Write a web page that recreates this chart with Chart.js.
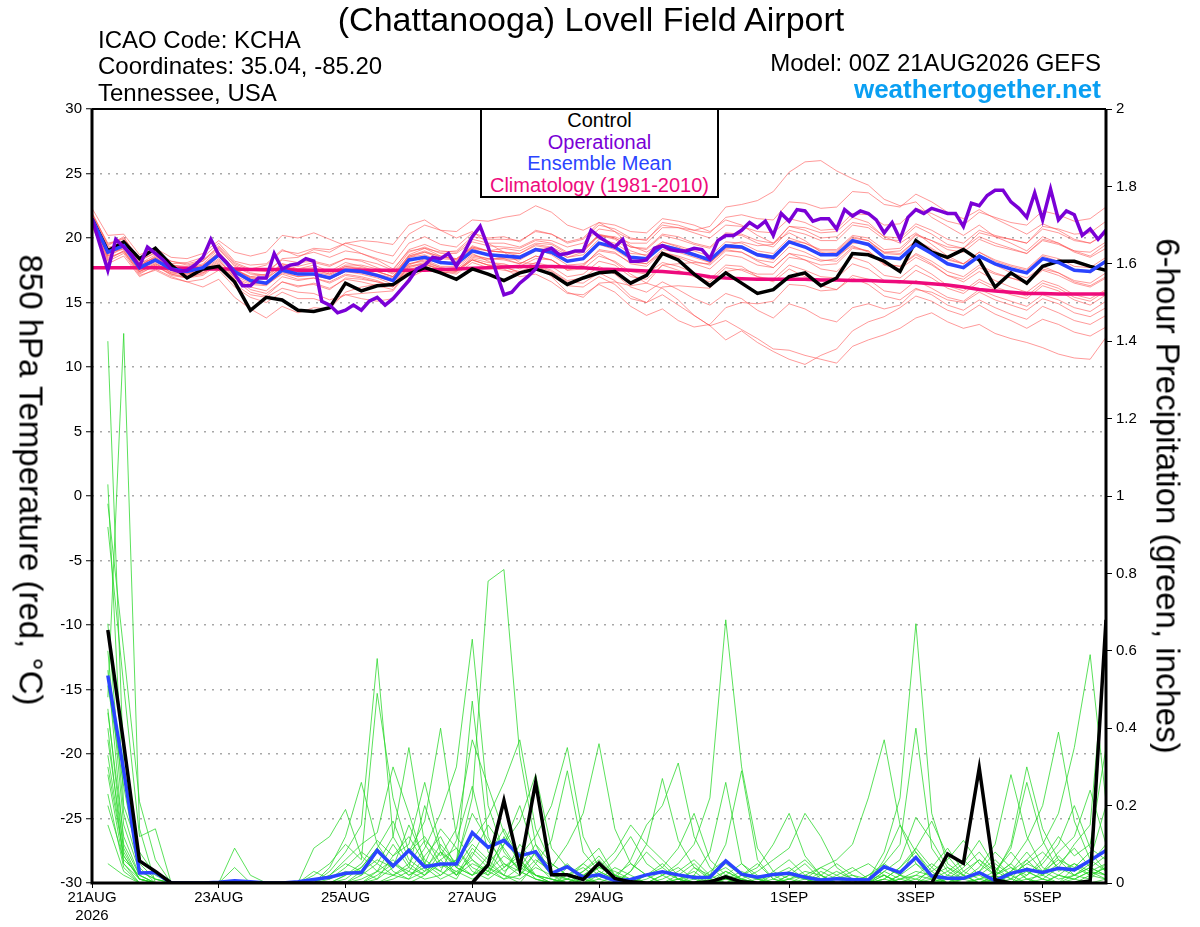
<!DOCTYPE html>
<html>
<head>
<meta charset="utf-8">
<script src="https://cdn.jsdelivr.net/npm/chart.js@4.4.0/dist/chart.umd.min.js"></script>
<style>
  body { margin: 0; background: #fff; }
  #wrap { position: relative; width: 1200px; height: 927px; font-family: "Liberation Sans", Arial, sans-serif; color: #000; }
  #c { position: absolute; left: 0; top: 0; }
  .t { position: absolute; white-space: nowrap; line-height: 1; }
  .rot { position: absolute; white-space: nowrap; line-height: 1; font-size: 33px; transform: translate(-50%, -50%) rotate(90deg); }
  #legend { position: absolute; left: 480px; top: 108px; width: 235px; height: 86px; border: 2px solid #000; background: #fff; text-align: center; font-size: 20px; line-height: 21.6px; }
</style>
</head>
<body>
<div id="wrap">
  <canvas id="c" width="1200" height="927"></canvas>
  <div class="t" style="left:591px;top:2px;font-size:34px;transform:translateX(-50%)">(Chattanooga) Lovell Field Airport</div>
  <div class="t" style="left:98px;top:28px;font-size:24px">ICAO Code: KCHA</div>
  <div class="t" style="left:98px;top:54px;font-size:24px">Coordinates: 35.04, -85.20</div>
  <div class="t" style="left:98px;top:81px;font-size:24px">Tennessee, USA</div>
  <div class="t" style="right:99px;top:51px;font-size:24px">Model: 00Z 21AUG2026 GEFS</div>
  <div class="t" style="right:99px;top:76px;font-size:26px;font-weight:bold;color:#0a9ff2">weathertogether.net</div>
  <div class="rot" style="left:31px;top:480px">850 hPa Temperature (red, °C)</div>
  <div class="rot" style="left:1168px;top:496px">6-hour Precipitation (green, inches)</div>
  <div id="legend">
    <div>Control</div>
    <div style="color:#7a00d6">Operational</div>
    <div style="color:#2a44ff">Ensemble Mean</div>
    <div style="color:#ee0a7c">Climatology (1981-2010)</div>
  </div>
</div>
<script>
// forecast hours: ensemble every 6h, operational every 3h, 0..384
const ensStep = 6;
const opStep = 3;

const tickHours = [0, 48, 96, 144, 192, 264, 312, 360];
const tickLabels = [['21AUG', '2026'], '23AUG', '25AUG', '27AUG', '29AUG', '1SEP', '3SEP', '5SEP'];

// 850 hPa temperature (C)
const opTemp = [
  21.5, 19.5, 17.5, 19.9, 19.3, 18.7, 17.8, 19.3, 18.8, 18.3,
  17.6, 17.4, 17.5, 17.9, 18.5, 19.9, 18.7, 18.1, 17.2, 16.3,
  16.3, 16.9, 16.9, 18.8, 17.6, 17.9, 18.0, 18.4, 18.2, 15.1,
  14.8, 14.2, 14.4, 14.8, 14.4, 15.1, 15.4, 14.8, 15.3, 16.0,
  16.7, 17.6, 17.9, 18.5, 18.4, 18.8, 17.8, 18.9, 20.1, 20.9,
  19.3, 17.4, 15.6, 15.8, 16.5, 17.0, 17.6, 19.0, 19.2, 18.7,
  18.8, 19.0, 19.0, 20.6, 20.1, 19.7, 19.3, 19.9, 18.2, 18.2,
  18.3, 19.2, 19.4, 19.1, 19.0, 19.0, 19.2, 19.1, 18.4, 19.8,
  20.2, 20.2, 20.6, 21.2, 20.8, 21.3, 20.2, 21.9, 21.3, 22.2,
  22.1, 21.3, 21.5, 21.5, 20.7, 22.2, 21.7, 22.1, 21.9, 21.4,
  20.4, 21.2, 19.9, 21.6, 22.2, 21.9, 22.3, 22.1, 21.9, 21.9,
  20.9, 22.7, 22.5, 23.3, 23.7, 23.7, 22.8, 22.3, 21.6, 23.5,
  21.4, 23.8, 21.4, 22.1, 21.8, 20.2, 20.7, 19.9, 20.6
];
const ctlTemp = [
  21.5, 19.0, 19.7, 18.4, 19.2, 17.9, 16.9, 17.6, 17.8, 16.6,
  14.4, 15.4, 15.2, 14.4, 14.3, 14.6, 16.5, 15.9, 16.3, 16.4,
  17.2, 17.7, 17.3, 16.8, 17.6, 17.2, 16.7, 17.3, 17.6, 17.2,
  16.4, 16.9, 17.3, 17.4, 16.5, 17.1, 18.8, 18.3, 17.2, 16.3,
  17.3, 16.5, 15.7, 16.0, 17.0, 17.3, 16.3, 16.9, 18.8, 18.7,
  18.2, 17.4, 19.8, 18.9, 18.5, 19.1, 18.3, 16.2, 17.3, 16.5,
  17.8, 18.2, 18.2, 17.8, 17.5
];
const meanTemp = [
  21.5, 18.9, 19.4, 17.7, 18.3, 17.6, 17.4, 17.7, 18.7, 17.4,
  16.7, 16.5, 17.5, 17.2, 17.2, 16.9, 17.5, 17.4, 17.1, 16.7,
  18.3, 18.5, 18.1, 18.0, 19.0, 18.7, 18.6, 18.5, 19.1, 18.9,
  18.2, 18.4, 19.6, 19.3, 18.5, 18.4, 19.4, 19.1, 18.7, 18.3,
  19.4, 19.3, 18.7, 18.5, 19.7, 19.3, 18.7, 18.7, 19.8, 19.5,
  18.5, 18.4, 19.5, 18.8, 18.0, 17.7, 18.6, 18.0, 17.6, 17.3,
  18.4, 18.1, 17.5, 17.4, 18.2
];
const climTemp = [
  17.7, 17.7, 17.7, 17.7, 17.7, 17.65, 17.65, 17.6, 17.6, 17.6,
  17.55, 17.55, 17.55, 17.5, 17.5, 17.5, 17.5, 17.5, 17.5, 17.5,
  17.5, 17.5, 17.55, 17.6, 17.65, 17.7, 17.75, 17.8, 17.8, 17.8,
  17.75, 17.7, 17.6, 17.55, 17.5, 17.45, 17.4, 17.3, 17.2, 17.0,
  16.9, 16.85, 16.8, 16.8, 16.8, 16.8, 16.75, 16.75, 16.7, 16.7,
  16.65, 16.6, 16.55, 16.45, 16.35, 16.2, 16.0, 15.9, 15.8, 15.7,
  15.7, 15.65, 15.65, 15.65, 15.65
];
const tempMembers = [
  [22.0, 19.5, 20.0, 18.4, 19.0, 18.0, 18.1, 18.5, 19.6, 18.2,
   17.9, 18.0, 19.1, 18.6, 18.9, 18.5, 19.0, 18.8, 18.4, 18.0,
   19.6, 20.1, 19.5, 19.3, 20.4, 20.0, 20.1, 19.7, 20.6, 20.3,
   19.6, 19.9, 21.0, 20.7, 20.0, 19.8, 21.2, 21.0, 20.6, 20.9,
   22.4, 22.6, 22.9, 23.6, 25.1, 25.9, 26.0, 25.2, 24.6, 24.1,
   23.0, 22.5, 22.8, 21.6, 20.9, 20.2, 21.0, 20.1, 19.6, 19.0,
   20.1, 19.6, 18.9, 18.5, 19.2],
  [21.2, 18.3, 19.0, 17.2, 17.9, 17.1, 16.9, 17.1, 18.0, 16.8,
   15.8, 15.5, 16.6, 16.2, 16.5, 16.1, 16.8, 16.6, 16.3, 16.0,
   17.6, 17.8, 17.4, 17.2, 18.1, 17.7, 17.5, 17.3, 17.8, 17.4,
   16.6, 16.5, 17.3, 16.7, 15.5, 15.0, 15.6, 14.8, 14.0, 13.2,
   13.6, 12.9, 12.2, 11.4, 11.3, 10.9, 10.6, 10.3, 11.6, 12.1,
   12.5, 13.0, 13.8, 14.2, 13.5, 13.0, 13.3, 12.6, 12.2, 11.9,
   11.5, 11.0, 10.7, 10.6, 12.3],
  [21.6, 19.2, 19.6, 17.9, 18.5, 17.7, 17.6, 17.9, 18.8, 17.6,
   16.9, 16.9, 17.7, 17.6, 17.9, 17.4, 18.1, 17.8, 17.4, 17.0,
   18.5, 18.9, 18.6, 18.3, 19.4, 19.0, 18.9, 18.6, 19.2, 18.7,
   17.9, 18.0, 18.8, 18.1, 17.2, 16.5, 16.1, 15.2, 14.0, 13.2,
   12.1, 12.8, 11.9, 11.2, 10.6, 10.2, 10.9, 11.4, 12.8, 13.5,
   13.9, 14.6, 15.5, 15.1, 14.4, 14.0, 14.8, 14.1, 13.6, 13.0,
   13.7, 13.3, 12.7, 12.4, 13.1],
  [21.9, 19.6, 19.9, 18.3, 18.8, 18.2, 18.0, 18.3, 19.3, 18.0,
   17.5, 17.4, 18.3, 18.1, 18.2, 17.9, 18.4, 18.3, 18.0, 17.5,
   19.1, 19.5, 19.0, 18.9, 19.9, 19.6, 19.6, 19.3, 19.9, 19.8,
   19.3, 19.6, 20.7, 20.5, 19.9, 19.9, 21.0, 20.8, 20.4, 20.0,
   21.0, 20.9, 20.5, 20.4, 21.5, 21.2, 20.6, 20.7, 21.9, 21.8,
   21.0, 21.1, 22.3, 21.9, 21.3, 21.0, 22.0, 21.6, 21.2, 21.0,
   22.1, 21.8, 21.3, 21.5, 22.4],
  [21.0, 18.0, 18.6, 17.0, 17.6, 17.0, 16.6, 16.2, 16.8, 15.4,
   14.5, 13.8, 14.7, 14.2, 14.6, 14.5, 15.8, 16.2, 16.4, 16.3,
   17.9, 18.4, 18.0, 18.2, 19.2, 19.0, 19.2, 19.0, 19.6, 19.5,
   18.8, 19.1, 20.2, 19.9, 19.0, 18.6, 19.5, 19.2, 18.7, 18.1,
   19.1, 18.9, 18.2, 17.7, 18.8, 18.3, 17.6, 17.4, 18.5, 18.1,
   17.1, 16.9, 17.9, 17.2, 16.3, 15.9, 16.8, 16.2, 15.8, 15.5,
   16.5, 16.1, 15.4, 15.1, 15.9],
  [21.7, 19.0, 19.8, 18.0, 18.7, 17.9, 17.8, 18.2, 19.4, 18.1,
   17.6, 17.9, 19.0, 18.8, 19.2, 19.1, 19.6, 19.3, 18.9, 18.6,
   20.3, 21.0, 20.6, 20.5, 21.4, 21.3, 21.6, 21.8, 22.5, 22.0,
   21.0, 20.6, 21.2, 20.5, 19.4, 18.9, 19.7, 19.3, 18.8, 18.3,
   19.3, 19.2, 18.6, 18.3, 19.6, 19.4, 18.8, 18.9, 20.0, 19.8,
   18.9, 18.8, 19.8, 19.2, 18.4, 18.0, 18.9, 18.2, 17.8, 17.5,
   18.6, 18.2, 17.6, 17.3, 18.1],
  [21.3, 18.6, 19.2, 17.5, 18.1, 17.3, 17.1, 17.4, 18.3, 16.9,
   16.2, 15.9, 17.0, 16.7, 16.9, 16.6, 17.2, 17.0, 16.7, 16.2,
   17.8, 18.0, 17.6, 17.4, 18.3, 17.9, 17.7, 17.4, 17.9, 17.5,
   16.7, 16.9, 17.8, 17.2, 16.2, 15.8, 16.6, 16.0, 15.3, 14.8,
   15.7, 15.3, 14.4, 13.8, 14.9, 14.5, 13.8, 13.5, 14.6, 14.9,
   14.5, 14.8, 16.0, 15.8, 15.2, 15.0, 15.8, 15.2, 14.8, 14.4,
   15.3, 14.9, 14.2, 13.9, 14.6],
  [21.8, 19.3, 19.5, 17.8, 18.6, 17.9, 17.7, 18.0, 19.1, 17.9,
   17.3, 17.1, 18.0, 17.6, 17.7, 17.3, 17.9, 17.9, 17.6, 17.3,
   18.9, 19.3, 18.8, 18.8, 19.7, 19.4, 19.3, 19.2, 19.8, 19.6,
   18.9, 19.1, 20.3, 20.0, 19.3, 19.1, 20.2, 19.9, 19.5, 19.2,
   20.3, 20.2, 19.6, 19.3, 20.6, 20.3, 19.8, 19.8, 21.0, 20.8,
   19.9, 19.8, 20.9, 20.3, 19.5, 19.2, 20.1, 19.6, 19.2, 18.8,
   19.9, 19.6, 19.0, 18.9, 19.7],
  [21.4, 18.8, 19.3, 17.6, 18.2, 17.5, 17.2, 17.5, 18.4, 17.0,
   16.0, 15.7, 16.6, 16.3, 16.4, 16.0, 16.9, 16.8, 16.6, 16.3,
   17.8, 18.1, 17.7, 17.5, 18.4, 18.1, 18.0, 17.6, 18.1, 17.8,
   17.0, 17.2, 18.2, 17.9, 17.0, 16.8, 17.9, 17.5, 17.0, 16.6,
   17.7, 17.5, 17.0, 16.8, 17.9, 17.5, 17.0, 16.9, 18.0, 17.6,
   16.7, 16.5, 17.5, 16.9, 16.1, 15.7, 16.6, 16.0, 15.6, 15.3,
   16.3, 15.9, 15.2, 14.8, 15.6],
  [21.6, 19.1, 19.7, 18.1, 18.4, 17.8, 17.5, 17.8, 18.9, 17.6,
   17.0, 16.9, 18.0, 17.8, 18.1, 17.8, 18.4, 18.2, 17.7, 17.2,
   18.6, 19.0, 18.5, 18.4, 19.3, 19.0, 18.9, 18.8, 19.5, 19.3,
   18.7, 19.0, 20.2, 20.1, 19.6, 19.6, 20.8, 20.8, 20.6, 20.4,
   21.6, 21.8, 21.5, 21.4, 22.8, 22.7, 22.3, 22.4, 23.6, 23.5,
   22.6, 22.4, 23.4, 22.8, 22.0, 21.5, 22.2, 21.5, 20.9, 20.3,
   21.1, 20.6, 19.9, 19.6, 20.3],
  [21.1, 18.5, 18.9, 17.3, 17.8, 17.2, 16.9, 17.3, 18.2, 17.1,
   16.5, 16.4, 17.4, 17.0, 17.2, 16.8, 17.4, 17.2, 16.9, 16.4,
   18.0, 18.3, 17.8, 17.8, 18.7, 18.4, 18.3, 18.0, 18.6, 18.3,
   17.5, 17.6, 18.6, 18.2, 17.4, 17.2, 18.1, 17.8, 17.3, 16.8,
   17.9, 17.8, 17.0, 16.6, 17.6, 17.0, 16.3, 16.0, 16.9, 16.4,
   15.5, 15.2, 16.1, 15.6, 14.8, 14.4, 15.2, 14.6, 14.1, 13.7,
   14.7, 14.2, 13.6, 13.3, 14.0],
  [22.3, 20.2, 20.3, 18.7, 19.2, 18.5, 18.4, 18.8, 19.8, 18.9,
   18.6, 18.9, 20.2, 20.0, 20.4, 19.9, 19.4, 18.8, 18.3, 17.6,
   19.0, 19.2, 18.6, 18.4, 19.2, 18.7, 18.4, 18.0, 18.6, 18.3,
   17.6, 17.9, 19.0, 18.8, 18.1, 18.0, 19.1, 18.9, 18.5, 18.1,
   19.2, 19.2, 18.8, 18.6, 19.8, 19.6, 19.1, 19.1, 20.2, 20.0,
   19.1, 19.2, 20.3, 19.8, 19.1, 18.9, 19.9, 19.4, 19.1, 18.8,
   19.8, 19.5, 19.0, 18.6, 19.5],
  [21.5, 19.0, 19.1, 17.4, 18.0, 17.3, 17.3, 17.6, 18.6, 17.5,
   17.0, 17.2, 18.4, 18.5, 19.1, 18.9, 19.6, 19.8, 19.7, 19.5,
   21.0, 21.4, 20.6, 20.0, 20.5, 19.6, 18.9, 18.1, 18.0, 17.0,
   15.8, 15.4, 16.5, 16.6, 16.3, 16.5, 17.9, 18.0, 18.1, 18.0,
   19.4, 19.7, 19.4, 19.5, 20.9, 20.8, 20.4, 20.5, 21.6, 21.2,
   20.1, 19.6, 20.4, 19.5, 18.6, 18.0, 18.6, 17.9, 17.3, 16.9,
   17.8, 17.3, 16.6, 16.3, 17.0],
  [20.9, 18.2, 18.8, 17.1, 17.5, 16.9, 16.6, 16.8, 17.5, 16.2,
   15.4, 15.0, 15.8, 15.3, 15.3, 14.9, 15.6, 15.7, 15.8, 15.9,
   17.5, 17.9, 17.6, 17.6, 18.6, 18.4, 18.4, 18.3, 19.0, 18.8,
   18.2, 18.4, 19.5, 19.1, 18.3, 18.0, 18.9, 18.5, 18.0, 17.6,
   18.7, 18.5, 17.9, 17.7, 18.8, 18.6, 18.2, 18.4, 19.6, 19.6,
   18.9, 19.0, 20.2, 19.8, 19.3, 19.2, 20.4, 20.1, 19.9, 19.6,
   20.9, 20.7, 20.3, 20.4, 21.3],
  [21.3, 18.7, 19.4, 17.4, 18.0, 17.4, 17.2, 17.5, 18.6, 17.3,
   16.6, 16.4, 17.2, 16.8, 16.9, 16.5, 17.1, 16.9, 16.6, 16.2,
   17.7, 18.0, 17.5, 17.3, 18.3, 17.9, 17.9, 17.8, 18.4, 18.3,
   17.5, 17.8, 19.1, 18.9, 18.0, 17.8, 18.9, 18.6, 18.2, 17.9,
   19.0, 18.9, 18.3, 18.1, 19.3, 18.9, 18.3, 18.2, 19.3, 19.0,
   18.0, 17.8, 18.8, 18.2, 17.4, 17.0, 17.9, 17.3, 16.9, 16.6,
   17.6, 17.3, 16.7, 16.5, 17.3],
  [21.9, 19.4, 20.1, 18.2, 18.9, 18.2, 17.9, 18.2, 19.2, 17.8,
   17.2, 17.1, 17.9, 17.5, 17.6, 17.2, 17.8, 17.6, 17.4, 17.0,
   18.7, 19.2, 18.9, 19.0, 20.1, 19.9, 19.9, 19.8, 20.5, 20.3,
   19.7, 20.0, 21.2, 21.0, 20.5, 20.4, 21.5, 21.3, 21.0, 20.5,
   21.4, 21.0, 20.2, 19.6, 20.4, 19.8, 18.9, 18.6, 19.4, 18.9,
   17.9, 17.6, 18.5, 17.9, 17.1, 16.8, 17.7, 17.2, 16.9, 16.5,
   17.5, 17.1, 16.5, 16.2, 16.9],
  [21.2, 18.4, 19.0, 17.4, 17.9, 17.2, 17.0, 17.2, 18.1, 16.9,
   16.4, 16.3, 17.3, 17.0, 17.1, 16.8, 17.4, 17.3, 17.0, 16.6,
   18.0, 18.2, 17.7, 17.5, 18.3, 17.9, 17.6, 17.0, 17.2, 16.6,
   15.7, 15.6, 16.4, 15.8, 14.7, 14.0, 14.5, 13.6, 13.1, 13.3,
   14.6, 15.0, 14.9, 15.1, 16.4, 16.3, 15.9, 16.0, 17.1, 16.8,
   15.9, 15.7, 16.7, 16.1, 15.4, 15.1, 16.0, 15.5, 15.1, 14.7,
   15.6, 15.2, 14.6, 14.3, 15.1],
  [21.6, 19.0, 19.6, 17.9, 18.5, 17.8, 17.6, 17.9, 18.9, 17.6,
   16.9, 16.8, 17.8, 17.5, 17.5, 17.2, 17.8, 17.7, 17.4, 17.0,
   18.6, 18.9, 18.4, 18.3, 19.3, 19.0, 18.9, 18.8, 19.4, 19.2,
   18.5, 18.7, 19.9, 19.6, 18.8, 18.7, 19.7, 19.4, 19.0, 18.6,
   19.7, 19.6, 19.0, 18.8, 20.0, 19.6, 19.0, 19.0, 20.1, 19.8,
   18.8, 18.7, 19.8, 19.1, 18.3, 18.0, 18.9, 18.3, 17.9, 17.6,
   18.7, 18.4, 17.8, 17.7, 18.5],
  [21.4, 18.9, 19.5, 17.8, 18.3, 17.6, 17.3, 17.3, 17.9, 16.4,
   15.6, 15.4, 16.1, 15.8, 15.7, 15.2, 15.6, 15.3, 15.1, 15.3,
   16.9, 17.5, 17.3, 17.4, 18.5, 18.3, 18.5, 18.4, 19.2, 19.1,
   18.5, 18.9, 20.2, 20.0, 19.3, 19.2, 20.3, 20.1, 19.6, 19.3,
   20.4, 20.3, 19.8, 19.6, 20.9, 20.6, 20.0, 20.1, 21.2, 21.0,
   20.1, 20.0, 21.1, 20.6, 19.9, 19.6, 20.6, 20.2, 19.9, 19.6,
   20.7, 20.4, 19.8, 19.6, 20.4],
  [21.5, 18.6, 19.3, 17.6, 18.2, 17.5, 17.4, 17.7, 18.6, 17.4,
   16.6, 16.5, 17.6, 17.3, 17.4, 17.1, 17.7, 17.6, 17.2, 16.9,
   18.5, 18.7, 18.2, 18.0, 18.8, 18.2, 17.8, 17.3, 17.6, 17.1,
   16.3, 16.2, 17.0, 16.4, 15.3, 15.0, 16.2, 16.3, 16.2, 16.1,
   17.4, 17.6, 17.2, 17.2, 18.5, 18.3, 17.9, 18.0, 19.2, 19.0,
   18.0, 17.8, 18.7, 18.0, 17.1, 16.6, 17.4, 16.7, 16.2, 15.8,
   16.7, 16.3, 15.6, 15.3, 16.0]
];

// 6-hour precipitation (inches), first step has no value
const ctlPrecip = [
  null, 0.654, 0.36, 0.057, 0.03, 0, 0, 0, 0, 0,
  0, 0, 0, 0, 0, 0, 0, 0, 0, 0,
  0, 0, 0, 0, 0, 0.047, 0.213, 0.038, 0.26, 0.021,
  0.021, 0.009, 0.051, 0.012, 0.003, 0, 0, 0, 0, 0.003,
  0.016, 0.003, 0, 0, 0, 0, 0, 0, 0, 0,
  0, 0, 0, 0, 0.075, 0.051, 0.297, 0.008, 0, 0,
  0, 0, 0, 0.005, 0.68
];
const meanPrecip = [
  null, 0.536, 0.29, 0.026, 0.027, 0, 0, 0, 0.002, 0.006,
  0.003, 0, 0, 0.003, 0.009, 0.015, 0.025, 0.027, 0.084, 0.044,
  0.084, 0.042, 0.049, 0.049, 0.13, 0.092, 0.11, 0.07, 0.081, 0.025,
  0.042, 0.015, 0.021, 0.006, 0.009, 0.021, 0.029, 0.021, 0.014, 0.015,
  0.057, 0.023, 0.015, 0.022, 0.025, 0.015, 0.008, 0.011, 0.009, 0.008,
  0.042, 0.027, 0.066, 0.018, 0.012, 0.012, 0.027, 0.006, 0.025, 0.035,
  0.027, 0.038, 0.034, 0.058, 0.084
];
const precipMembers = [
  [null, 1.40, 0.30, 0.05, 0.01, 0, 0, 0, 0, 0,
   0, 0, 0, 0, 0, 0.03, 0.08, 0.15, 0.58, 0.12,
   0.05, 0.02, 0.08, 0.04, 0.10, 0.06, 0.02, 0, 0.05, 0.01,
   0, 0, 0, 0, 0, 0, 0, 0, 0.02, 0.08,
   0.26, 0.05, 0.01, 0, 0, 0, 0, 0, 0, 0,
   0.03, 0.01, 0, 0, 0, 0, 0, 0.02, 0.05, 0.01,
   0, 0, 0.04, 0.08, 0.03],
  [null, 1.03, 0.20, 0.08, 0.02, 0, 0, 0, 0, 0,
   0, 0, 0, 0, 0.02, 0.05, 0.10, 0.06, 0.49, 0.22,
   0.08, 0.12, 0.05, 0.02, 0.07, 0.15, 0.09, 0.03, 0.01, 0,
   0.02, 0.04, 0.01, 0, 0, 0, 0, 0.01, 0.03, 0,
   0.02, 0.01, 0, 0.03, 0.06, 0.02, 0, 0, 0, 0,
   0.01, 0.04, 0.08, 0.03, 0, 0.01, 0.03, 0.06, 0.02, 0.05,
   0.08, 0.04, 0.10, 0.15, 0.62],
  [null, 0.98, 0.60, 0.21, 0.06, 0, 0, 0, 0, 0.09,
   0.02, 0, 0, 0, 0, 0.04, 0.12, 0.26, 0.10, 0.04,
   0.15, 0.06, 0.03, 0.11, 0.25, 0.08, 0.03, 0.06, 0.02, 0,
   0.01, 0.05, 0.09, 0.02, 0, 0, 0, 0, 0.04, 0.02,
   0.10, 0.29, 0.06, 0.01, 0, 0, 0.03, 0.01, 0, 0,
   0, 0.02, 0.05, 0.01, 0, 0, 0, 0.01, 0.03, 0.08,
   0.03, 0.01, 0.02, 0.05, 0.10],
  [null, 0.92, 0.51, 0.12, 0.14, 0, 0, 0, 0, 0.04,
   0, 0, 0, 0, 0.09, 0.12, 0.19, 0.07, 0.03, 0.10,
   0.04, 0.20, 0.08, 0.02, 0.05, 0.03, 0.12, 0.05, 0.02, 0.01,
   0, 0, 0.02, 0.06, 0.12, 0.05, 0.02, 0, 0, 0.01,
   0.03, 0.01, 0, 0, 0.02, 0.05, 0.01, 0, 0, 0,
   0.02, 0, 0, 0.04, 0.09, 0.03, 0.01, 0, 0, 0.02,
   0.06, 0.12, 0.07, 0.10, 0.35],
  [null, 0.67, 0.18, 0.04, 0, 0, 0, 0, 0, 0,
   0, 0, 0, 0, 0, 0.02, 0.06, 0.10, 0.13, 0.30,
   0.18, 0.05, 0.14, 0.09, 0.04, 0.02, 0.10, 0.20, 0.07, 0.02,
   0.05, 0.01, 0, 0, 0.03, 0.08, 0.04, 0.09, 0.18, 0.06,
   0.02, 0, 0, 0, 0, 0.01, 0.04, 0.02, 0, 0,
   0.05, 0.02, 0.09, 0.04, 0.01, 0, 0, 0.02, 0.04, 0.01,
   0, 0.02, 0.05, 0.03, 0.01],
  [null, 0.51, 0.25, 0.03, 0.01, 0, 0, 0, 0, 0,
   0, 0, 0, 0, 0.03, 0.01, 0.04, 0.08, 0.05, 0.12,
   0.35, 0.10, 0.04, 0.06, 0.18, 0.11, 0.05, 0.02, 0.08, 0.03,
   0.01, 0, 0, 0, 0, 0.02, 0.05, 0.01, 0, 0.03,
   0.06, 0.02, 0.04, 0.10, 0.18, 0.07, 0.02, 0, 0, 0,
   0, 0.01, 0.03, 0.02, 0, 0.03, 0.06, 0.02, 0, 0.04,
   0.02, 0.07, 0.03, 0.06, 0.20],
  [null, 0.44, 0.12, 0.02, 0, 0, 0, 0, 0, 0,
   0, 0, 0, 0, 0, 0, 0.02, 0.05, 0.11, 0.07,
   0.10, 0.26, 0.09, 0.04, 0.02, 0.07, 0.14, 0.06, 0.01, 0,
   0, 0.03, 0.07, 0.02, 0.01, 0, 0, 0.02, 0.05, 0.01,
   0, 0.01, 0.03, 0.06, 0.09, 0.18, 0.12, 0.04, 0.01, 0,
   0.02, 0, 0, 0, 0.02, 0.05, 0.11, 0.04, 0.01, 0,
   0.01, 0.04, 0.02, 0.01, 0.05],
  [null, 0.37, 0.09, 0.01, 0, 0, 0, 0, 0, 0,
   0, 0, 0, 0, 0, 0, 0, 0.03, 0.06, 0.04,
   0.08, 0.16, 0.40, 0.12, 0.06, 0.03, 0.01, 0.04, 0.10, 0.05,
   0.02, 0, 0.01, 0.04, 0.02, 0, 0, 0, 0, 0,
   0.02, 0.05, 0.02, 0, 0, 0.02, 0.04, 0.06, 0.10, 0.22,
   0.37, 0.15, 0.05, 0.02, 0, 0, 0.01, 0.03, 0.08, 0.03,
   0.01, 0, 0.02, 0.04, 0.02],
  [null, 0.33, 0.07, 0.01, 0, 0, 0, 0, 0, 0,
   0, 0, 0, 0, 0, 0.01, 0.03, 0.02, 0.08, 0.05,
   0.03, 0.09, 0.18, 0.30, 0.63, 0.20, 0.08, 0.03, 0.01, 0,
   0.04, 0.02, 0, 0, 0, 0.01, 0.03, 0.01, 0, 0,
   0, 0, 0.01, 0.02, 0, 0, 0, 0.02, 0.04, 0.01,
   0.08, 0.22, 0.67, 0.18, 0.05, 0.02, 0, 0, 0.01, 0.03,
   0.01, 0, 0, 0.02, 0.01],
  [null, 0.23, 0.04, 0, 0, 0, 0, 0, 0, 0,
   0, 0, 0, 0, 0, 0, 0.01, 0.04, 0.09, 0.16,
   0.06, 0.03, 0.10, 0.05, 0.47, 0.12, 0.04, 0.08, 0.02, 0.01,
   0, 0, 0.03, 0.01, 0, 0, 0.02, 0.04, 0.01, 0,
   0.01, 0.03, 0.01, 0, 0.01, 0.03, 0.02, 0, 0, 0.02,
   0.05, 0.10, 0.40, 0.09, 0.03, 0.01, 0.02, 0.05, 0.02, 0,
   0.03, 0.06, 0.04, 0.02, 0.04],
  [null, 0.20, 0.06, 0.02, 0, 0, 0, 0, 0, 0,
   0, 0, 0, 0, 0, 0, 0, 0.01, 0.03, 0.02,
   0.05, 0.11, 0.07, 0.14, 0.37, 0.25, 0.13, 0.05, 0.02, 0,
   0.01, 0.03, 0.06, 0.02, 0, 0, 0, 0, 0.01, 0.02,
   0.05, 0.02, 0, 0, 0, 0, 0.01, 0.03, 0.01, 0,
   0.03, 0.06, 0.17, 0.11, 0.04, 0.02, 0, 0, 0, 0.01,
   0.02, 0.05, 0.09, 0.04, 0.02],
  [null, 0.05, 0.02, 0, 0, 0, 0, 0, 0, 0,
   0, 0, 0, 0, 0, 0, 0, 0, 0.02, 0.05,
   0.02, 0.04, 0.08, 0.05, 0.22, 0.78, 0.81, 0.33, 0.10, 0.02,
   0.01, 0, 0, 0.02, 0.05, 0.02, 0, 0, 0, 0.02,
   0.04, 0.01, 0, 0, 0.02, 0.01, 0, 0, 0, 0,
   0.06, 0.15, 0.08, 0.02, 0, 0, 0.01, 0.02, 0, 0,
   0, 0.02, 0.01, 0, 0.01],
  [null, 0.60, 0.15, 0.03, 0.01, 0, 0, 0, 0, 0,
   0, 0, 0, 0, 0, 0.02, 0.05, 0.03, 0.01, 0.07,
   0.12, 0.05, 0.02, 0.06, 0.11, 0.17, 0.26, 0.37, 0.14, 0.05,
   0.02, 0.01, 0, 0, 0.03, 0.10, 0.06, 0.02, 0, 0,
   0, 0.02, 0.01, 0, 0, 0, 0.02, 0.05, 0.02, 0,
   0.01, 0.04, 0.09, 0.16, 0.07, 0.02, 0, 0.01, 0.03, 0.06,
   0.02, 0, 0.01, 0.03, 0.02],
  [null, 0.55, 0.10, 0.02, 0, 0, 0, 0, 0, 0,
   0, 0, 0, 0, 0, 0, 0.02, 0.04, 0.09, 0.03,
   0.01, 0.07, 0.12, 0.04, 0.02, 0.05, 0.10, 0.16, 0.28, 0.09,
   0.04, 0.02, 0.05, 0.01, 0, 0, 0.01, 0.03, 0.06, 0.02,
   0, 0, 0, 0.02, 0.04, 0.01, 0, 0, 0, 0,
   0, 0.01, 0.02, 0.05, 0.02, 0.01, 0.04, 0.10, 0.28, 0.12,
   0.04, 0.02, 0.01, 0.03, 0.05],
  [null, 0.45, 0.08, 0.01, 0, 0, 0, 0, 0, 0,
   0, 0, 0, 0, 0, 0, 0, 0.02, 0.05, 0.02,
   0.04, 0.02, 0.06, 0.09, 0.03, 0.01, 0.04, 0.07, 0.12, 0.20,
   0.35, 0.12, 0.04, 0.02, 0, 0, 0, 0.01, 0.02, 0,
   0.01, 0, 0, 0, 0, 0, 0, 0.01, 0.02, 0.01,
   0.02, 0, 0.01, 0.03, 0.06, 0.11, 0.05, 0.02, 0.10, 0.30,
   0.14, 0.06, 0.02, 0.04, 0.07],
  [null, 0.40, 0.05, 0, 0, 0, 0, 0, 0, 0,
   0, 0, 0, 0, 0, 0, 0, 0, 0.03, 0.06,
   0.02, 0.05, 0.03, 0.01, 0.08, 0.04, 0.02, 0.10, 0.05, 0.11,
   0.29, 0.08, 0.03, 0.01, 0, 0.02, 0.04, 0.01, 0, 0,
   0, 0.02, 0.05, 0.01, 0, 0, 0, 0, 0.01, 0,
   0, 0, 0.02, 0.01, 0, 0.02, 0.06, 0.03, 0.09, 0.26,
   0.11, 0.03, 0.05, 0.02, 0.04],
  [null, 0.30, 0.07, 0.01, 0, 0, 0, 0, 0, 0,
   0, 0, 0, 0, 0, 0, 0, 0, 0.01, 0.04,
   0.09, 0.04, 0.01, 0.03, 0.06, 0.02, 0.05, 0.03, 0.08, 0.04,
   0.10, 0.18, 0.36, 0.14, 0.05, 0.02, 0, 0, 0, 0,
   0.03, 0.01, 0, 0, 0.01, 0.02, 0.01, 0, 0, 0,
   0.01, 0, 0, 0.02, 0.04, 0.01, 0, 0.02, 0.05, 0.11,
   0.20, 0.39, 0.16, 0.06, 0.03],
  [null, 0.28, 0.05, 0.01, 0, 0, 0, 0, 0, 0,
   0, 0, 0, 0, 0, 0, 0, 0, 0, 0.02,
   0.01, 0.03, 0.06, 0.02, 0.09, 0.05, 0.02, 0.01, 0.04, 0.02,
   0, 0.01, 0.04, 0.08, 0.15, 0.10, 0.27, 0.11, 0.04, 0.01,
   0, 0, 0, 0.01, 0.03, 0.06, 0.02, 0, 0, 0,
   0, 0.02, 0.01, 0, 0, 0.01, 0.03, 0.08, 0.04, 0.02,
   0.05, 0.10, 0.20, 0.09, 0.06],
  [null, 0.15, 0.03, 0, 0, 0, 0, 0, 0, 0,
   0, 0, 0, 0, 0, 0, 0, 0, 0, 0.01,
   0.03, 0.01, 0.02, 0.05, 0.02, 0.04, 0.01, 0.02, 0.06, 0.03,
   0.02, 0.05, 0.02, 0.01, 0.06, 0.15, 0.20, 0.31, 0.12, 0.04,
   0.01, 0, 0, 0, 0, 0, 0, 0.01, 0.03, 0.05,
   0.02, 0, 0, 0, 0.01, 0.04, 0.08, 0.03, 0.01, 0.06,
   0.10, 0.18, 0.35, 0.59, 0.21],
  [null, 0.48, 1.42, 0.14, 0, 0, 0, 0, 0, 0,
   0, 0, 0, 0, 0, 0, 0, 0, 0, 0,
   0, 0.02, 0.05, 0.03, 0.01, 0.03, 0.07, 0.04, 0.02, 0.01,
   0, 0.02, 0.04, 0.03, 0.01, 0, 0.02, 0.05, 0.10, 0.22,
   0.68, 0.30, 0.09, 0.03, 0.01, 0, 0, 0, 0, 0.02,
   0.04, 0.02, 0, 0.01, 0.03, 0.06, 0.02, 0, 0.02, 0.05,
   0.03, 0.08, 0.12, 0.24, 0.10]
];

function pts(arr, step) {
  return arr.map((v, i) => ({ x: i * step, y: v }));
}

function line(label, arr, step, axis, color, width) {
  return {
    label: label,
    data: pts(arr, step),
    yAxisID: axis,
    borderColor: color,
    borderWidth: width,
    pointRadius: 0,
    tension: 0,
    fill: false,
  };
}

// index 0 is drawn on top
const datasets = [
  line('Operational', opTemp, opStep, 'y', '#7a00d6', 3.5),
  line('Ensemble Mean', meanTemp, ensStep, 'y', '#2a44ff', 3.5),
  line('Control', ctlTemp, ensStep, 'y', '#000000', 3.5),
  line('Climatology (1981-2010)', climTemp, ensStep, 'y', '#ee0a7c', 3.5),
  line('Control precip', ctlPrecip, ensStep, 'y2', '#000000', 3.5),
  line('Mean precip', meanPrecip, ensStep, 'y2', '#2a44ff', 3.5),
];
tempMembers.forEach((m, k) => datasets.push(line('T member ' + (k + 1), m, ensStep, 'y', 'rgba(255,80,80,0.65)', 0.9)));
precipMembers.forEach((m, k) => datasets.push(line('P member ' + (k + 1), m, ensStep, 'y2', 'rgba(40,215,40,0.85)', 0.9)));

const framePlugin = {
  id: 'frame',
  afterDatasetsDraw(chart) {
    const { ctx, chartArea: a } = chart;
    ctx.save();
    ctx.strokeStyle = '#000';
    ctx.lineWidth = 3;
    ctx.beginPath();
    ctx.moveTo(a.left, a.top);
    ctx.lineTo(a.left, a.bottom);
    ctx.lineTo(a.right, a.bottom);
    ctx.lineTo(a.right, a.top);
    ctx.stroke();
    ctx.lineWidth = 2;
    ctx.beginPath();
    ctx.moveTo(a.left, a.top);
    ctx.lineTo(a.right, a.top);
    ctx.stroke();
    ctx.restore();
  }
};

Chart.defaults.font.family = '"Liberation Sans", Arial, sans-serif';
Chart.defaults.color = '#000';

new Chart(document.getElementById('c').getContext('2d'), {
  type: 'line',
  data: { datasets: datasets },
  options: {
    responsive: false,
    animation: false,
    events: [],
    layout: { padding: { top: 109, left: 0, right: 0, bottom: 0 } },
    plugins: {
      legend: { display: false },
      tooltip: { enabled: false },
    },
    scales: {
      x: {
        type: 'linear',
        min: 0,
        max: 384,
        afterBuildTicks: (s) => { s.ticks = tickHours.map((v) => ({ value: v })); },
        afterFit: (s) => { s.height = 44; },
        ticks: {
          autoSkip: false,
          maxRotation: 0,
          padding: 1,
          font: { size: 15 },
          callback: (v) => {
            const k = tickHours.indexOf(v);
            return k >= 0 ? tickLabels[k] : '';
          },
        },
        grid: { drawOnChartArea: false, drawTicks: true, tickLength: 5, tickColor: '#000' },
        border: { display: false },
      },
      y: {
        position: 'left',
        min: -30,
        max: 30,
        afterFit: (s) => { s.width = 92; },
        ticks: { stepSize: 5, padding: 4, font: { size: 15 } },
        grid: { color: '#a8a8a8', lineWidth: 1.5, tickColor: '#000', tickLength: 6, tickWidth: 1 },
        border: { display: false, dash: [2, 6] },
      },
      y2: {
        position: 'right',
        min: 0,
        max: 2,
        afterFit: (s) => { s.width = 94; },
        ticks: {
          stepSize: 0.2,
          padding: 4,
          font: { size: 15 },
          callback: (v) => String(Number(v.toFixed(1))),
        },
        grid: { drawOnChartArea: false, tickColor: '#000', tickLength: 6, tickWidth: 1 },
        border: { display: false },
      },
    },
  },
  plugins: [framePlugin],
});
</script>
</body>
</html>
